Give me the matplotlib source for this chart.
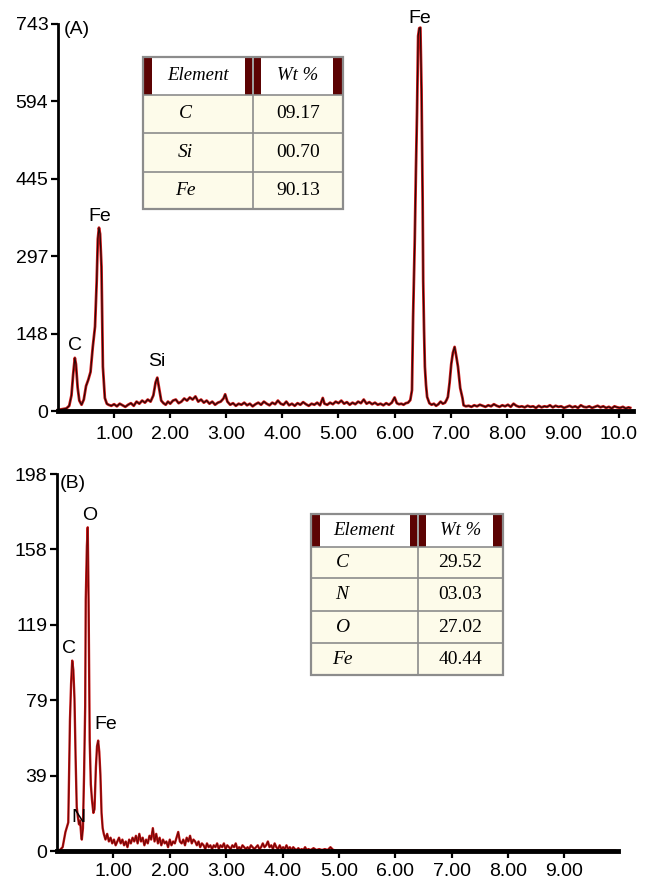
import matplotlib.pyplot as plt
from matplotlib.patches import Rectangle

# EDX spectrum (A): energy (keV) and counts
energy_a = [0.00, 0.05, 0.10, 0.15, 0.20, 0.24, 0.27, 0.30, 0.32, 0.35, 0.38, 0.42, 0.46, 0.50, 0.54,
            0.58, 0.62, 0.66, 0.69, 0.71, 0.73, 0.75, 0.775, 0.80, 0.835, 0.87, 0.90, 0.95, 1.00, 1.05,
            1.10, 1.15, 1.20, 1.25, 1.30, 1.35, 1.40, 1.45, 1.50, 1.55, 1.60, 1.65, 1.70, 1.74, 1.77,
            1.80, 1.84, 1.88, 1.92, 1.96, 2.00, 2.05, 2.10, 2.15, 2.20, 2.25, 2.30, 2.35, 2.40, 2.45,
            2.50, 2.55, 2.60, 2.65, 2.70, 2.75, 2.80, 2.85, 2.90, 2.95, 2.98, 3.02, 3.07, 3.12, 3.17,
            3.22, 3.27, 3.32, 3.37, 3.42, 3.47, 3.52, 3.57, 3.62, 3.67, 3.72, 3.77, 3.82, 3.87, 3.92,
            3.97, 4.02, 4.07, 4.12, 4.17, 4.22, 4.27, 4.32, 4.37, 4.42, 4.47, 4.52, 4.57, 4.62, 4.67,
            4.72, 4.75, 4.80, 4.85, 4.90, 4.95, 5.00, 5.05, 5.10, 5.15, 5.20, 5.25, 5.30, 5.35, 5.40,
            5.45, 5.50, 5.55, 5.60, 5.65, 5.70, 5.75, 5.80, 5.85, 5.90, 5.95, 6.00, 6.04, 6.08, 6.12,
            6.16, 6.20, 6.24, 6.28, 6.31, 6.33, 6.36, 6.38, 6.40, 6.42, 6.44, 6.46, 6.48, 6.50, 6.51,
            6.525, 6.54, 6.56, 6.58, 6.62, 6.66, 6.70, 6.74, 6.78, 6.82, 6.86, 6.90, 6.93, 6.95, 6.98,
            7.01, 7.04, 7.07, 7.10, 7.13, 7.15, 7.17, 7.21, 7.23, 7.27, 7.32, 7.37, 7.42, 7.47, 7.52,
            7.57, 7.62, 7.67, 7.72, 7.77, 7.82, 7.87, 7.92, 7.97, 8.02, 8.07, 8.12, 8.17, 8.22, 8.27,
            8.32, 8.37, 8.42, 8.47, 8.52, 8.57, 8.62, 8.67, 8.72, 8.77, 8.82, 8.87, 8.92, 8.97, 9.02,
            9.07, 9.12, 9.17, 9.22, 9.27, 9.32, 9.37, 9.42, 9.47, 9.52, 9.57, 9.62, 9.67, 9.72, 9.77,
            9.82, 9.87, 9.92, 9.97, 10.02, 10.07, 10.12, 10.17, 10.20]
counts_a = [2, 3, 4, 5, 10, 30, 70, 102, 90, 45, 20, 12, 22, 48, 60,
            75, 123, 162, 250, 330, 352, 340, 277, 85, 25, 14, 12, 10, 13, 9,
            14, 11, 8, 12, 15, 10, 18, 14, 20, 16, 22, 18, 30, 55, 64,
            45, 20, 15, 12, 18, 14, 20, 22, 15, 18, 24, 20, 26, 22, 28,
            18, 22, 16, 20, 14, 18, 12, 16, 18, 24, 32, 18, 12, 15, 10,
            14, 12, 16, 11, 14, 9, 13, 16, 12, 18, 14, 11, 16, 13, 20,
            14, 12, 18, 11, 14, 10, 15, 12, 17, 13, 10, 14, 12, 16, 11,
            25, 14, 12, 16, 13, 18, 15, 20, 14, 17, 12, 16, 13, 18, 15,
            22, 14, 17, 13, 16, 12, 14, 11, 15, 12, 16, 26, 15, 13, 14,
            12, 15, 16, 21, 40, 181, 330, 460, 573, 720, 735, 736, 617, 405, 250,
            156, 85, 50, 27, 15, 12, 14, 10, 13, 18, 14, 16, 22, 27, 54,
            90, 112, 123, 105, 85, 65, 44, 25, 11, 9, 10, 8, 11, 9, 12,
            10, 8, 11, 9, 13, 10, 8, 11, 9, 12, 8, 14, 10, 8, 9,
            7, 10, 8, 9, 6, 10, 7, 9, 8, 11, 7, 10, 8, 9, 6,
            8, 10, 7, 9, 6, 11, 8, 7, 9, 6, 8, 10, 7, 9, 6,
            8, 5, 9, 7, 6, 8, 5, 7, 6]

# EDX spectrum (B)
energy_b = [0.00, 0.05, 0.10, 0.15, 0.20, 0.23, 0.25, 0.27, 0.29, 0.31, 0.33, 0.35, 0.37, 0.39, 0.41,
            0.43, 0.44, 0.46, 0.48, 0.50, 0.51, 0.53, 0.545, 0.56, 0.58, 0.60, 0.62, 0.645, 0.665, 0.69,
            0.71, 0.73, 0.75, 0.77, 0.79, 0.81, 0.83, 0.86, 0.89, 0.92, 0.95, 0.98, 1.01, 1.04, 1.07,
            1.10, 1.13, 1.16, 1.19, 1.22, 1.25, 1.28, 1.31, 1.34, 1.37, 1.40, 1.43, 1.46, 1.49, 1.52,
            1.55, 1.58, 1.61, 1.64, 1.67, 1.70, 1.73, 1.76, 1.79, 1.82, 1.85, 1.88, 1.91, 1.94, 1.97,
            2.00, 2.03, 2.06, 2.09, 2.12, 2.15, 2.18, 2.21, 2.24, 2.27, 2.30, 2.33, 2.36, 2.39, 2.42,
            2.45, 2.48, 2.51, 2.54, 2.57, 2.60, 2.63, 2.66, 2.69, 2.72, 2.75, 2.78, 2.81, 2.84, 2.87,
            2.90, 2.93, 2.96, 2.99, 3.02, 3.05, 3.08, 3.11, 3.14, 3.17, 3.20, 3.23, 3.26, 3.29, 3.32,
            3.35, 3.38, 3.41, 3.44, 3.47, 3.50, 3.53, 3.56, 3.59, 3.62, 3.65, 3.68, 3.71, 3.74, 3.77,
            3.80, 3.83, 3.86, 3.89, 3.92, 3.95, 3.98, 4.01, 4.04, 4.07, 4.10, 4.13, 4.16, 4.19, 4.22,
            4.25, 4.28, 4.31, 4.34, 4.37, 4.40, 4.43, 4.46, 4.50, 4.55, 4.60, 4.65, 4.70, 4.75, 4.80,
            4.85, 4.90, 5.00, 5.20, 5.50, 6.00, 6.50, 7.00, 7.50, 8.00, 8.50, 9.00, 9.50, 9.90]
counts_b = [0, 0.5, 2, 10, 15, 69, 88, 100, 95, 80, 49, 23, 18, 14, 16,
            8, 6, 12, 40, 76, 132, 160, 170, 132, 58, 35, 27, 20, 22, 44,
            55, 58, 52, 40, 20, 12, 9, 6, 9, 5, 7, 4, 6, 3, 5,
            7, 4, 6, 3, 5, 2, 6, 4, 7, 5, 8, 4, 9, 5, 7,
            3, 6, 4, 8, 6, 12, 5, 9, 4, 7, 3, 6, 4, 5, 2,
            6, 3, 5, 4, 7, 10, 5, 4, 6, 3, 7, 5, 8, 4, 6,
            5, 3, 5, 2, 4, 3, 1, 4, 2, 3, 1, 3, 2, 4, 1,
            3, 2, 4, 1, 3, 2, 1, 3, 2, 4, 1, 2, 1, 3, 2,
            1, 2, 1, 3, 2, 1, 2, 3, 1, 2, 4, 2, 3, 5, 2,
            3, 1, 4, 2, 1, 3, 1, 2, 1, 3, 1, 2, 0.5, 2, 1,
            0.5, 1.5, 0.5, 1, 0.5, 2, 0.5, 1, 0.5, 1.5, 0.5, 1, 0.5, 1, 0.5,
            2, 0.5, 0.3, 0.4, 0.3, 0.3, 0.2, 0.3, 0.2, 0.2, 0.2, 0.2, 0.2, 0.2]

ymax_a = 743
yticks_a = ['0', '148', '297', '445', '594', '743']
xticks_a = ['1.00', '2.00', '3.00', '4.00', '5.00', '6.00', '7.00', '8.00', '9.00', '10.0']
ymax_b = 198
yticks_b = ['0', '39', '79', '119', '158', '198']
xticks_b = ['1.00', '2.00', '3.00', '4.00', '5.00', '6.00', '7.00', '8.00', '9.00']

peak_names_a = ['C', 'Fe', 'Si', 'Fe']
peak_names_b = ['O', 'C', 'Fe', 'N']

elements_a = ['C', 'Si', 'Fe']
wt_a = ['09.17', '00.70', '90.13']
elements_b = ['C', 'N', 'O', 'Fe']
wt_b = ['29.52', '03.03', '27.02', '40.44']

W, H = 651, 881
plt.rcParams['font.family'] = ['Liberation Sans', 'DejaVu Sans']
fig = plt.figure(figsize=(W / 100, H / 100), dpi=100)


def fx(px):
    return px / W


def fy(py):
    return 1 - py / H


def setup_axes(ax, ymax, ylabels, xlabels, xmax, xpad):
    ax.set_xlim(0, xmax)
    ax.set_ylim(0, ymax)
    ax.set_yticks([ymax * i / 5 for i in range(6)])
    ax.set_yticklabels(ylabels)
    ax.set_xticks(range(1, len(xlabels) + 1))
    ax.set_xticklabels(xlabels)
    for s in ['top', 'right']:
        ax.spines[s].set_visible(False)
    ax.spines['left'].set_linewidth(2)
    ax.spines['bottom'].set_linewidth(3.5)
    ax.tick_params(axis='both', direction='out', length=5, width=1.6, labelsize=14, pad=2)
    ax.tick_params(axis='x', pad=xpad)


# --- panel A
axA = fig.add_axes([fx(58), fy(411), fx(633) - fx(58), fy(24) - fy(411)])
axA.plot(energy_a, counts_a, color='#d41a1a', lw=2.0, clip_on=False)
axA.plot(energy_a, counts_a, color='#2a0808', lw=0.9, clip_on=False)
setup_axes(axA, ymax_a, yticks_a, xticks_a, 10.25, 6)
label_pos_a = [(0.30, 110), (0.75, 357), (1.77, 78), (6.45, 738)]
for name, (xe, yv) in zip(peak_names_a, label_pos_a):
    axA.text(xe, yv, name, ha='center', va='bottom', fontsize=14)
axA.text(0.1, ymax_a * 0.985, '(A)', ha='left', va='center', fontsize=14)

# --- panel B
axB = fig.add_axes([fx(57), fy(851), fx(618) - fx(57), fy(474) - fy(851)])
axB.plot(energy_b, counts_b, color='#c81818', lw=1.7, clip_on=False)
axB.plot(energy_b, counts_b, color='#6a0606', lw=0.7, clip_on=False)
setup_axes(axB, ymax_b, yticks_b, xticks_b, 9.95, 4)
label_pos_b = [(0.58, 172), (0.22, 102), (0.86, 62), (0.38, 13)]
for name, (xe, yv) in zip(peak_names_b, label_pos_b):
    axB.text(xe, yv, name, ha='center', va='bottom', fontsize=14)
axB.text(0.05, ymax_b * 0.975, '(B)', ha='left', va='center', fontsize=14)


def draw_table(x0, x1, xmid, y0, yhead, rows_y, y1, elements, values, elem_x, bars):
    # body and header backgrounds
    fig.add_artist(Rectangle((fx(x0), fy(y1)), fx(x1) - fx(x0), fy(yhead) - fy(y1),
                             transform=fig.transFigure, facecolor='#fdfbea', edgecolor='none'))
    fig.add_artist(Rectangle((fx(x0), fy(yhead)), fx(x1) - fx(x0), fy(y0) - fy(yhead),
                             transform=fig.transFigure, facecolor='white', edgecolor='none'))
    for bx0, bx1 in bars:
        fig.add_artist(Rectangle((fx(bx0), fy(yhead)), fx(bx1) - fx(bx0), fy(y0) - fy(yhead),
                                 transform=fig.transFigure, facecolor='#5c0303', edgecolor='none'))
    lc = '#8c8c8c'
    for yy in [yhead] + rows_y:
        fig.add_artist(plt.Line2D([fx(x0), fx(x1)], [fy(yy), fy(yy)], color=lc, lw=1.2))
    fig.add_artist(plt.Line2D([fx(xmid), fx(xmid)], [fy(y0), fy(y1)], color=lc, lw=1.2))
    fig.add_artist(Rectangle((fx(x0), fy(y1)), fx(x1) - fx(x0), fy(y0) - fy(y1),
                             transform=fig.transFigure, facecolor='none', edgecolor=lc, lw=1.6))
    serif = ['Liberation Serif', 'DejaVu Serif']
    hy = (y0 + yhead) / 2
    fig.text(fx((x0 + xmid) / 2), fy(hy), 'Element', ha='center', va='center',
             family=serif, style='italic', fontsize=13.5)
    fig.text(fx((xmid + x1) / 2), fy(hy), 'Wt %', ha='center', va='center',
             family=serif, style='italic', fontsize=13.5)
    edges = [yhead] + rows_y + [y1]
    for i, (el, v) in enumerate(zip(elements, values)):
        cy = (edges[i] + edges[i + 1]) / 2
        fig.text(fx(elem_x), fy(cy), el, ha='center', va='center',
                 family=serif, style='italic', fontsize=14)
        fig.text(fx((xmid + x1) / 2), fy(cy), v, ha='center', va='center',
                 family=serif, fontsize=14)


draw_table(143, 343, 253, 57, 95, [133, 172], 209, elements_a, wt_a, 185,
           [(143, 152), (245, 252), (254, 261), (333, 343)])
draw_table(311, 503, 418, 514, 547, [578, 611, 643], 675, elements_b, wt_b, 342,
           [(311, 320), (410, 417), (419, 426), (493, 503)])

fig.savefig('out.png', dpi=100)
